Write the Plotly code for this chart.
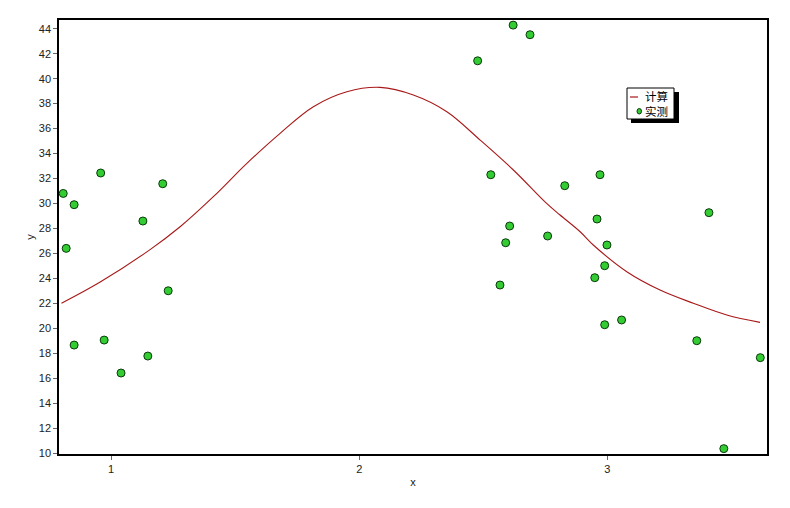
import plotly.graph_objects as go

# measured points (实测)
meas_x = [0.807, 0.819, 0.851, 0.851, 0.958, 0.972, 1.040, 1.128, 1.148, 1.208, 1.230,
          2.477, 2.530, 2.567, 2.590, 2.606, 2.620, 2.688, 2.759, 2.828,
          2.949, 2.958, 2.970, 2.989, 2.989, 2.998, 3.057, 3.360, 3.409, 3.469, 3.616]
meas_y = [30.8, 26.4, 29.9, 18.65, 32.44, 19.05, 16.41, 28.59, 17.77, 31.58, 23.0,
          41.43, 32.30, 23.46, 26.85, 28.19, 44.29, 43.52, 27.39, 31.42,
          24.05, 28.75, 32.30, 25.01, 20.28, 26.67, 20.66, 19.0, 29.26, 10.35, 17.64]

# computed curve (计算)
calc_x = [0.80, 0.956, 1.157, 1.278, 1.412, 1.547, 1.681, 1.815, 1.950, 2.084,
          2.218, 2.353, 2.487, 2.621, 2.755, 2.809, 2.890, 2.943, 3.078, 3.212, 3.346, 3.481, 3.615]
calc_y = [22.0, 23.7, 26.3, 28.13, 30.54, 33.21, 35.62, 37.75, 38.95, 39.30,
          38.69, 37.35, 35.08, 32.68, 30.0, 29.07, 27.73, 26.67, 24.53, 23.06, 22.0, 21.06, 20.47]

legend_names = ["计算", "实测"]
x_ticks = [1, 2, 3]
y_ticks = list(range(10, 45, 2))

LINE_COLOR = "#a81818"
MARK_COLOR = "#33cc33"

fig = go.Figure()
fig.add_trace(go.Scatter(x=calc_x, y=calc_y, mode="lines", name=legend_names[0],
                         line=dict(color=LINE_COLOR, width=1.1, shape="spline", smoothing=1.0)))
fig.add_trace(go.Scatter(x=meas_x, y=meas_y, mode="markers", name=legend_names[1],
                         marker=dict(color=MARK_COLOR, size=8,
                                     line=dict(color="#0a3a0a", width=1))))

tick_font = dict(family="Liberation Sans, Arial", size=11, color="#222222")
axis_common = dict(showgrid=False, zeroline=False, showline=True, linecolor="black",
                   linewidth=1.5, mirror=True, ticks="outside", ticklen=4,
                   tickcolor="#666666", tickfont=tick_font, automargin=False)

fig.update_xaxes(range=[0.79, 3.643], tickvals=x_ticks,
                 title=dict(text="x", font=dict(family="Liberation Sans, Arial", size=11, color="#222222"), standoff=4),
                 **axis_common)
fig.update_yaxes(range=[9.92, 44.7], tickvals=y_ticks,
                 title=dict(text="y", font=dict(family="Liberation Sans, Arial", size=11, color="#222222"), standoff=2),
                 **axis_common)

# manual legend box (screen pixel -> paper conversion; plot area at 59..767 x 20..454)
L, T, W, H = 59, 20, 708, 434
def px(x):
    return (x - L) / W
def py(y):
    return (T + H - y) / H

fig.add_shape(type="rect", xref="paper", yref="paper",
              x0=px(631), x1=px(679), y0=py(123), y1=py(92),
              fillcolor="black", line=dict(width=0), layer="above")
fig.add_shape(type="rect", xref="paper", yref="paper",
              x0=px(627), x1=px(674), y0=py(119), y1=py(88),
              fillcolor="white", line=dict(color="black", width=1), layer="above")
fig.add_shape(type="line", xref="paper", yref="paper",
              x0=px(630), x1=px(638), y0=py(97), y1=py(97),
              line=dict(color=LINE_COLOR, width=1.2), layer="above")
fig.add_shape(type="circle", xref="paper", yref="paper",
              x0=px(637), x1=px(641.5), y0=py(114), y1=py(108.5),
              fillcolor=MARK_COLOR, line=dict(color="#0a3a0a", width=1), layer="above")
fig.add_annotation(xref="paper", yref="paper", x=px(644), y=py(103),
                   text="<br>".join(legend_names), showarrow=False,
                   xanchor="left", yanchor="middle", align="left",
                   font=dict(family="Noto Sans CJK SC", size=11.5, color="black"),
                   borderpad=0)

# page body has an 8px margin: figure is 782x500 so it fits the 790x508 window
fig.update_layout(
    width=782, height=500,
    margin=dict(l=51, r=23, t=12, b=54),
    plot_bgcolor="white", paper_bgcolor="white",
    showlegend=False,
)

fig.write_html("out.html")
